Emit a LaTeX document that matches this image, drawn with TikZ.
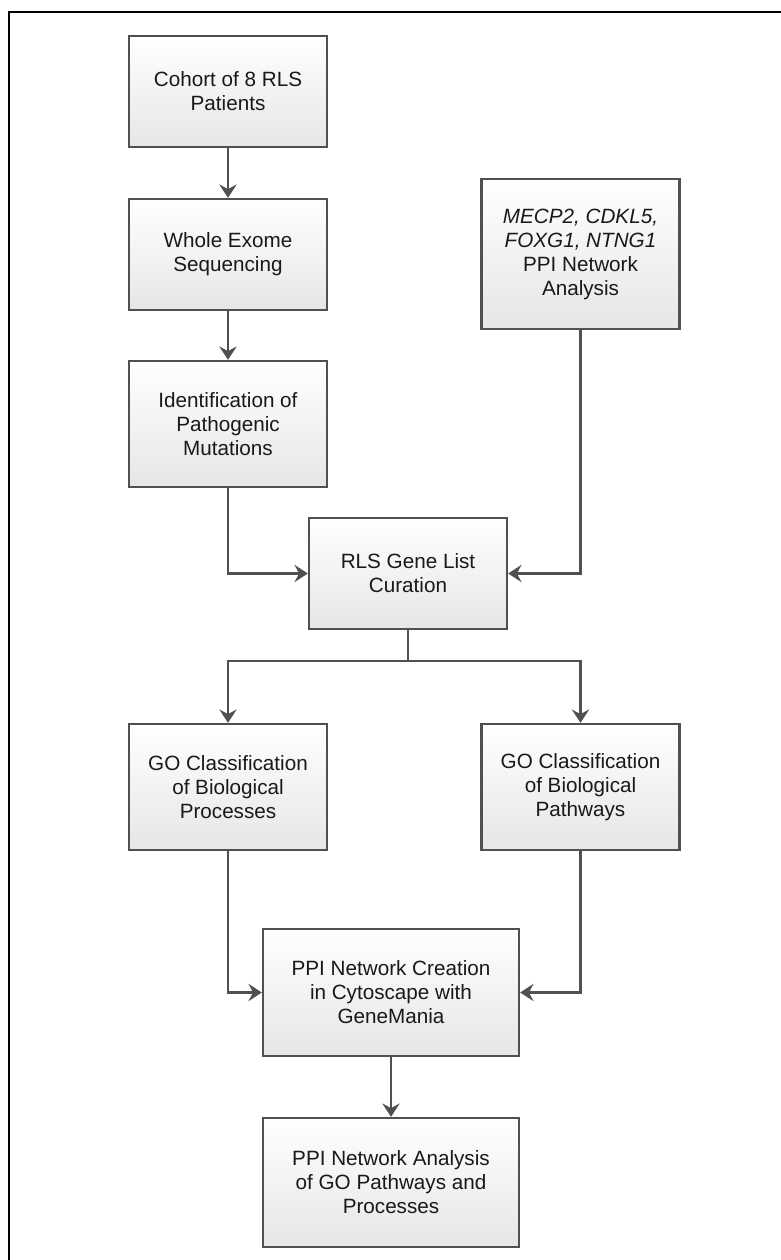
\documentclass[tikz,border=0pt]{standalone}
\usepackage{fontspec}
\setmainfont{Liberation Sans}
\usepackage{xcolor}
\usetikzlibrary{arrows.meta}
\definecolor{mline}{RGB}{80,80,80}
\definecolor{mtext}{RGB}{25,25,25}
\definecolor{mshade}{RGB}{230,230,230}

\begin{document}
\begin{tikzpicture}[x=0.75pt,y=-0.75pt]
  \tikzset{flow box/.style={draw=mline,line width=1.8pt,top color=white,bottom color=mshade,minimum width=148.5pt,minimum height=#1,inner sep=0pt,align=center,text=mtext,font=\fontsize{15.5}{18}\selectfont}}
  \tikzset{flow arrow/.style={draw=mline,line width=1.8pt,-{Stealth[length=10pt,width=13pt,inset=3.5pt]}}}
  \useasboundingbox (0,0) rectangle (781,1260);
  \draw[line width=2.2pt] (9,1262) |- (783,12); % frame

  \node [flow box=83.25pt] (cohort) at (228,91.5) {Cohort of 8 RLS\\Patients};
  \node [flow box=83.25pt] (wes) at (228,254.5) {Whole Exome\\Sequencing};
  \node [flow box=94.5pt] (mut) at (228,424) {Identification of\\Pathogenic\\Mutations};
  \node [flow box=112.5pt] (genes) at (580.5,254) {\textit{MECP2, CDKL5,}\\\textit{FOXG1, NTNG1}\\PPI Network\\Analysis};
  \node [flow box=83.25pt] (curation) at (408,573.5) {RLS Gene List\\Curation};
  \node [flow box=94.5pt] (gobp) at (228,787) {GO Classification\\of Biological\\Processes};
  \node [flow box=94.5pt] (gopw) at (580.5,787) {GO Classification\\of Biological\\Pathways};
  \node [flow box=95.25pt, minimum width=192pt] (ppi) at (391,992.5) {PPI Network Creation\\in Cytoscape with\\GeneMania};
  \node [flow box=96.75pt, minimum width=192pt] (analysis) at (391,1182.5) {PPI Network Analysis\\of GO Pathways and\\Processes};

  \coordinate (split) at (408,661);
  \draw[flow arrow] (cohort) -- (wes);
  \draw[flow arrow] (wes) -- (mut);
  \draw[flow arrow] (mut.south) |- (curation.west);
  \draw[flow arrow] (genes.south) |- (curation.east);
  \draw[draw=mline,line width=1.8pt] (curation.south) -- (split);
  \draw[flow arrow] (split) -| (gobp.north);
  \draw[flow arrow] (split) -| (gopw.north);
  \draw[flow arrow] (gobp.south) |- (ppi.west);
  \draw[flow arrow] (gopw.south) |- (ppi.east);
  \draw[flow arrow] (ppi) -- (analysis);
\end{tikzpicture}
\end{document}
